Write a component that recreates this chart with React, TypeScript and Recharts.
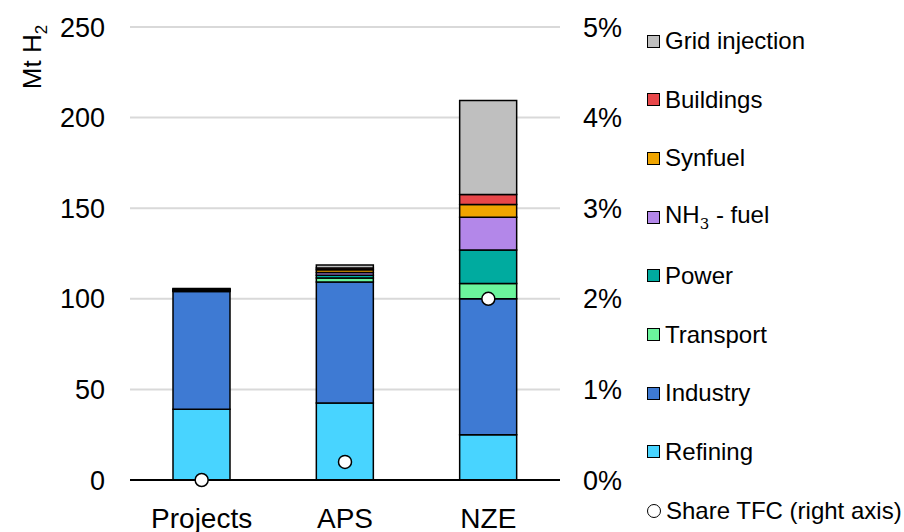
import { ComposedChart, Bar, Line, XAxis, YAxis, CartesianGrid } from 'recharts'

const CATEGORIES = ['Projects', 'APS', 'NZE']
const REFINING = [39, 42.5, 25]
const INDUSTRY = [65, 66.8, 75]
const TRANSPORT = [0.3, 2.2, 8.5]
const POWER = [0.3, 1.5, 18.5]
const NH3_FUEL = [0.3, 1.5, 18]
const SYNFUEL = [0.3, 1.5, 7]
const BUILDINGS = [0.25, 1, 5.5]
const GRID_INJECTION = [0.25, 1.6, 52]
const SHARE_TFC = [0, 0.002, 0.02]

const LEFT_TICKS = [0, 50, 100, 150, 200, 250]
const RIGHT_TICKS = [0, 0.01, 0.02, 0.03, 0.04, 0.05]

// stacking order, bottom to top
const SERIES = [
  { key: 'refining', name: 'Refining', color: '#48d4ff', values: REFINING },
  { key: 'industry', name: 'Industry', color: '#3e7ad3', values: INDUSTRY },
  { key: 'transport', name: 'Transport', color: '#6bf59c', values: TRANSPORT },
  { key: 'power', name: 'Power', color: '#00ab9f', values: POWER },
  { key: 'nh3', name: 'NH3 - fuel', color: '#b387e9', values: NH3_FUEL },
  { key: 'synfuel', name: 'Synfuel', color: '#f0a500', values: SYNFUEL },
  { key: 'buildings', name: 'Buildings', color: '#e8474a', values: BUILDINGS },
  { key: 'grid', name: 'Grid injection', color: '#bfbfbf', values: GRID_INJECTION },
]

const FONT = '"Liberation Sans", Arial, sans-serif'

const data = CATEGORIES.map((cat, i) => {
  const row: Record<string, string | number> = { cat, share: SHARE_TFC[i] }
  SERIES.forEach((s) => { row[s.key] = s.values[i] })
  return row
})

function YLabel() {
  return (
    <text
      x={0}
      y={0}
      transform="translate(41, 57) rotate(-90)"
      textAnchor="middle"
      fontSize={26}
      fontFamily={FONT}
      fill="#000"
    >
      Mt H<tspan fontSize={17} dy={6}>2</tspan>
    </text>
  )
}

function LegendBox() {
  const items = [...SERIES].reverse()
  return (
    <div style={{ position: 'absolute', left: 647, top: 0, fontFamily: FONT, fontSize: 24, color: '#000' }}>
      {items.map((s, i) => (
        <div key={s.key} style={{ position: 'absolute', top: 41 + i * 58.7 - 14, height: 28, display: 'flex', alignItems: 'center', whiteSpace: 'nowrap' }}>
          <span style={{ width: 11, height: 11, background: s.color, border: '1.5px solid #000', display: 'inline-block', marginRight: 5 }} />
          {s.key === 'nh3' ? <span>NH<sub style={{ fontSize: 15, fontFamily: 'DejaVu Serif, serif' }}>3</sub> - fuel</span> : s.name}
        </div>
      ))}
      <div style={{ position: 'absolute', top: 41 + items.length * 58.7 - 14, height: 28, display: 'flex', alignItems: 'center', whiteSpace: 'nowrap' }}>
        <span style={{ width: 12, height: 12, background: '#fff', border: '1.5px solid #000', borderRadius: '50%', display: 'inline-block', marginRight: 5 }} />
        Share TFC (right axis)
      </div>
    </div>
  )
}

export default function App() {
  return (
    <div style={{ position: 'absolute', left: 0, top: 0, width: 904, height: 532, background: '#fff' }}>
      <ComposedChart width={904} height={532} data={data} margin={{ top: 27, right: 274, bottom: 0, left: 0 }}>
        <CartesianGrid vertical={false} stroke="#d9d9d9" strokeWidth={2} yAxisId="left" />
        <XAxis
          dataKey="cat"
          height={52}
          axisLine={{ stroke: '#000', strokeWidth: 2 }}
          tickLine={false}
          tickSize={0}
          tickMargin={28}
          tick={{ fontSize: 28, fontFamily: FONT, fill: '#000' }}
        />
        <YAxis
          yAxisId="left"
          width={130}
          domain={[0, 250]}
          ticks={LEFT_TICKS}
          axisLine={false}
          tickLine={false}
          tickSize={0}
          tickMargin={25}
          tick={{ fontSize: 27, fontFamily: FONT, fill: '#000' }}
          label={<YLabel />}
        />
        <YAxis
          yAxisId="right"
          orientation="right"
          width={70}
          domain={[0, 0.05]}
          ticks={RIGHT_TICKS}
          axisLine={false}
          tickLine={false}
          tickSize={0}
          tickMargin={23}
          tickFormatter={(v: number) => `${Math.round(v * 100)}%`}
          tick={{ fontSize: 27, fontFamily: FONT, fill: '#000', textAnchor: 'start' }}
        />
        {SERIES.map((s) => (
          <Bar
            key={s.key}
            yAxisId="left"
            dataKey={s.key}
            name={s.name}
            stackId="a"
            fill={s.color}
            stroke="#000"
            strokeWidth={1.5}
            barSize={57}
            isAnimationActive={false}
          />
        ))}
        <Line
          yAxisId="right"
          dataKey="share"
          stroke="none"
          dot={{ r: 6.5, fill: '#fff', stroke: '#000', strokeWidth: 1.5 }}
          activeDot={false}
          isAnimationActive={false}
        />
      </ComposedChart>
      <LegendBox />
    </div>
  )
}
